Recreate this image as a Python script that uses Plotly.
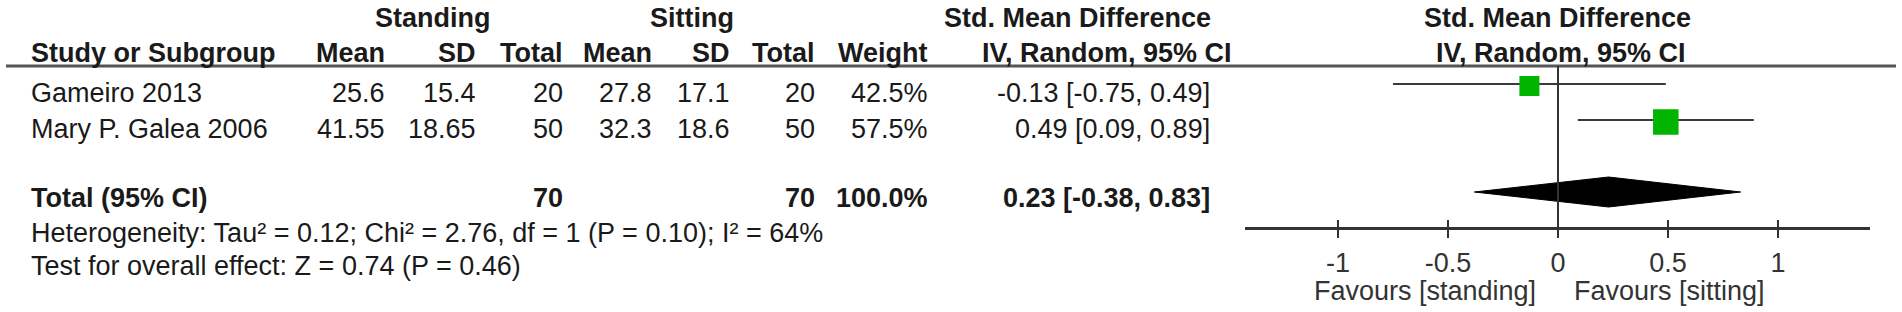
import plotly.graph_objects as go

# ---------------- data ----------------
studies = ["Gameiro 2013", "Mary P. Galea 2006"]
standing_mean = [25.6, 41.55]
standing_sd = [15.4, 18.65]
standing_total = [20, 50]
sitting_mean = [27.8, 32.3]
sitting_sd = [17.1, 18.6]
sitting_total = [20, 50]
weights = [42.5, 57.5]
smd = [-0.13, 0.49]
ci_low = [-0.75, 0.09]
ci_high = [0.49, 0.89]

total_label = "Total (95% CI)"
total_standing = 70
total_sitting = 70
total_weight = 100.0
total_smd = 0.23
total_low = -0.38
total_high = 0.83

heterogeneity = "Heterogeneity: Tau² = 0.12; Chi² = 2.76, df = 1 (P = 0.10); I² = 64%"
overall_effect = "Test for overall effect: Z = 0.74 (P = 0.46)"

group_headers = ["Standing", "Sitting"]
col_headers = ["Mean", "SD", "Total", "Mean", "SD", "Total", "Weight"]
effect_header = ["Std. Mean Difference", "IV, Random, 95% CI"]
tick_vals = [-1, -0.5, 0, 0.5, 1]
tick_text = ["-1", "-0.5", "0", "0.5", "1"]
favours_left = "Favours [standing]"
favours_right = "Favours [sitting]"

# ---------------- layout constants ----------------
W, H = 1902, 312
FONT = "Liberation Sans, Arial, Helvetica, sans-serif"
FS = 27
TXT = "#1a1a1a"
GRAY = "#333333"

Y_H1, Y_H2 = 18, 53
Y_ROWS = [93, 129]
Y_TOT, Y_HET, Y_TEST = 198, 233, 266
Y_MARK = [84, 120]
Y_DIAMOND, DIAMOND_HALF = 192, 15
Y_HEADER_LINE = 66
Y_AXIS = 228
Y_FAV = 291

X_NAME = 29
COL_R = [387, 478, 565, 654, 732, 817, 930]
X_CI_R = 1212

ZERO_PX, PX_PER_UNIT = 1558, 220
AX_L, AX_R = 1245, 1870
x2_range = [(AX_L - ZERO_PX) / PX_PER_UNIT, (AX_R - ZERO_PX) / PX_PER_UNIT]
x2_domain = [AX_L / W, AX_R / W]

fig = go.Figure()
ann = []


def add_text(x, y, text, anchor="right", bold=False, color=TXT, xref="x"):
    ann.append(dict(x=x, y=y, xref=xref, yref="y", text=f"<b>{text}</b>" if bold else text,
                    showarrow=False, xanchor=anchor, yanchor="middle",
                    font=dict(family=FONT, size=FS, color=color)))


# headers
add_text(433, Y_H1, group_headers[0], "center", True)
add_text(692, Y_H1, group_headers[1], "center", True)
add_text(1077, Y_H1, effect_header[0], "center", True)
add_text(1557, Y_H1, effect_header[0], "center", True)
add_text(X_NAME, Y_H2, "Study or Subgroup", "left", True)
for xr, h in zip(COL_R, col_headers):
    add_text(xr, Y_H2, h, "right", True)
add_text(1107, Y_H2, effect_header[1], "center", True)
add_text(1561, Y_H2, effect_header[1], "center", True)

# study rows
for i, name in enumerate(studies):
    y = Y_ROWS[i]
    add_text(X_NAME, y, name, "left")
    vals = [str(standing_mean[i]), str(standing_sd[i]), str(standing_total[i]),
            str(sitting_mean[i]), str(sitting_sd[i]), str(sitting_total[i]),
            f"{weights[i]:.1f}%"]
    for xr, v in zip(COL_R, vals):
        add_text(xr, y, v, "right")
    add_text(X_CI_R, y, f"{smd[i]:.2f} [{ci_low[i]:.2f}, {ci_high[i]:.2f}]", "right")

# total row
add_text(X_NAME, Y_TOT, total_label, "left", True)
add_text(COL_R[2], Y_TOT, str(total_standing), "right", True)
add_text(COL_R[5], Y_TOT, str(total_sitting), "right", True)
add_text(COL_R[6], Y_TOT, f"{total_weight:.1f}%", "right", True)
add_text(X_CI_R, Y_TOT, f"{total_smd:.2f} [{total_low:.2f}, {total_high:.2f}]", "right", True)
add_text(X_NAME, Y_HET, heterogeneity, "left")
add_text(X_NAME, Y_TEST, overall_effect, "left")

# favours labels
add_text(1538, Y_FAV, favours_left, "right", color=GRAY)
add_text(1572, Y_FAV, favours_right, "left", color=GRAY)

# ---------------- forest marks ----------------
for i in range(len(studies)):
    fig.add_trace(go.Scatter(x=[ci_low[i], ci_high[i]], y=[Y_MARK[i], Y_MARK[i]],
                             mode="lines", line=dict(color="#3a3a3a", width=2),
                             xaxis="x2", yaxis="y", hoverinfo="skip", showlegend=False))
sizes = [20 * (w / weights[0]) ** 0.8 for w in weights]
fig.add_trace(go.Scatter(x=smd, y=[y + 2 for y in Y_MARK], mode="markers",
                         marker=dict(symbol="square", size=sizes, color="#00B400", opacity=1,
                                     line=dict(width=0)),
                         xaxis="x2", yaxis="y", showlegend=False))
fig.add_trace(go.Scatter(
    x=[total_low, total_smd, total_high, total_smd, total_low],
    y=[Y_DIAMOND, Y_DIAMOND - DIAMOND_HALF, Y_DIAMOND, Y_DIAMOND + DIAMOND_HALF, Y_DIAMOND],
    mode="lines", fill="toself", fillcolor="#000000", line=dict(color="#000000", width=1),
    xaxis="x2", yaxis="y", showlegend=False))
fig.add_trace(go.Scatter(x=[], y=[], xaxis="x3", yaxis="y", showlegend=False))

shapes = [
    dict(type="line", xref="x", yref="y", x0=6, x1=1896, y0=Y_HEADER_LINE, y1=Y_HEADER_LINE,
         line=dict(color="#555555", width=3)),
    dict(type="line", xref="x2", yref="y", x0=0, x1=0, y0=Y_HEADER_LINE, y1=Y_AXIS,
         line=dict(color=GRAY, width=2)),
]

axis_pos = 1 - Y_AXIS / H
fig.update_layout(
    width=W, height=H, margin=dict(l=0, r=0, t=0, b=0, pad=0),
    paper_bgcolor="white", plot_bgcolor="white",
    font=dict(family=FONT, size=FS, color=TXT),
    xaxis=dict(range=[0, W], domain=[0, 1], visible=False, fixedrange=True),
    yaxis=dict(range=[H, 0], domain=[0, 1], visible=False, fixedrange=True),
    xaxis2=dict(range=x2_range, domain=x2_domain, anchor="free", position=axis_pos, side="bottom",
                showline=True, linecolor=GRAY, linewidth=3, ticks="outside", ticklen=8,
                tickwidth=2, tickcolor=GRAY, tickvals=tick_vals, ticktext=tick_text,
                ticklabelstandoff=2,
                tickfont=dict(family=FONT, size=FS, color=GRAY), showgrid=False, zeroline=False,
                fixedrange=True),
    xaxis3=dict(range=x2_range, domain=x2_domain, anchor="free", position=axis_pos, side="bottom",
                overlaying="x2", showline=False, ticks="inside", ticklen=8, tickwidth=2,
                tickcolor=GRAY, tickvals=tick_vals, showticklabels=False, showgrid=False,
                zeroline=False, fixedrange=True),
    annotations=ann, shapes=shapes, showlegend=False,
)

fig.write_html("out.html", config={"displayModeBar": False},
               post_script="document.body.style.margin='0';document.body.style.overflow='hidden';")
